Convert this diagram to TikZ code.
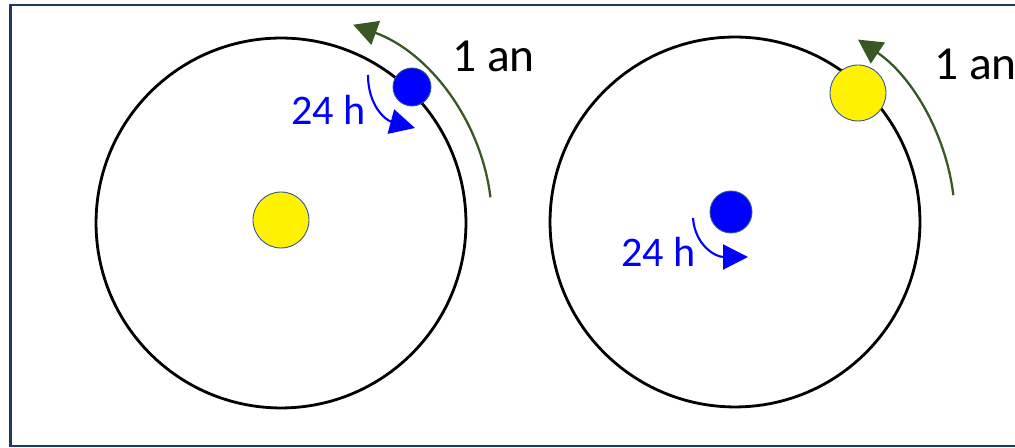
\documentclass[tikz,border=0pt]{standalone}
\usepackage{fontspec}
\setmainfont{Carlito}
\usetikzlibrary{arrows.meta}

\definecolor{orbitgreen}{RGB}{56,87,35}
\definecolor{framenavy}{RGB}{32,56,100}
\definecolor{edgeblue}{RGB}{47,85,151}

\begin{document}
\begin{tikzpicture}[
        x=0.02cm, y=-0.02cm,
        orbit/.style={circle, draw=black, line width=1.6pt, minimum size=7.4cm, inner sep=0pt},
        sun/.style={circle, draw=edgeblue, line width=0.5pt, fill=yellow, minimum size=1.12cm, inner sep=0pt},
        earth/.style={circle, draw=edgeblue, line width=0.5pt, fill=blue, minimum size=0.8cm, inner sep=0pt},
        yeararrow/.style={-{Triangle[length=0.48cm, width=0.5cm]}, orbitgreen, line width=1.3pt},
        dayarrow/.style={-{Triangle[length=0.5cm, width=0.5cm]}, blue, line width=1.2pt},
        yearlabel/.style={anchor=base west, inner sep=0pt, font=\fontsize{27}{32}\selectfont},
        daylabel/.style={anchor=base west, inner sep=0pt, text=blue, font=\fontsize{24}{29}\selectfont}
    ]
    \useasboundingbox (0,0) rectangle (1015,448);
    \clip (0,0) rectangle (1015,448);
    \draw[framenavy, line width=1.2pt] (10.5,5) rectangle (1040,446);

    % Left diagram - Sun at the centre
    \node[orbit] (orbitA) at (281,223) {};
    \node[sun] (sunA) at (281,220) {};
    \node[earth, minimum size=0.76cm] (earthA) at (412,87) {};
    \coordinate (yearA) at ([shift={(-7:211)}]orbitA.center);
    \draw[yeararrow] (yearA) arc[start angle=-7, end angle=-70, radius=211];
    \node[yearlabel] (yearLabelA) at (452,72) {1 an};
    \coordinate (dayA) at (368,75);
    \coordinate (dayEndA) at (415,128);
    \draw[dayarrow] (dayA) .. controls (368,105) and (385,120) .. (dayEndA);
    \node[daylabel] (dayLabelA) at (291,125) {24 h};

    % Right diagram - Earth at the centre
    \node[orbit] (orbitB) at (735,222) {};
    \node[earth, minimum size=0.84cm] (earthB) at (731,212) {};
    \node[sun] (sunB) at (858,93) {};
    \coordinate (yearB) at ([shift={(-7:220)}]orbitB.center);
    \draw[yeararrow] (yearB) arc[start angle=-7, end angle=-56, radius=220];
    \node[yearlabel] (yearLabelB) at (934,80) {1 an};
    \coordinate (dayB) at (693,218);
    \coordinate (dayEndB) at (748,257);
    \draw[dayarrow] (dayB) .. controls (695,245) and (715,257) .. (dayEndB);
    \node[daylabel] (dayLabelB) at (621,267) {24 h};
\end{tikzpicture}
\end{document}
